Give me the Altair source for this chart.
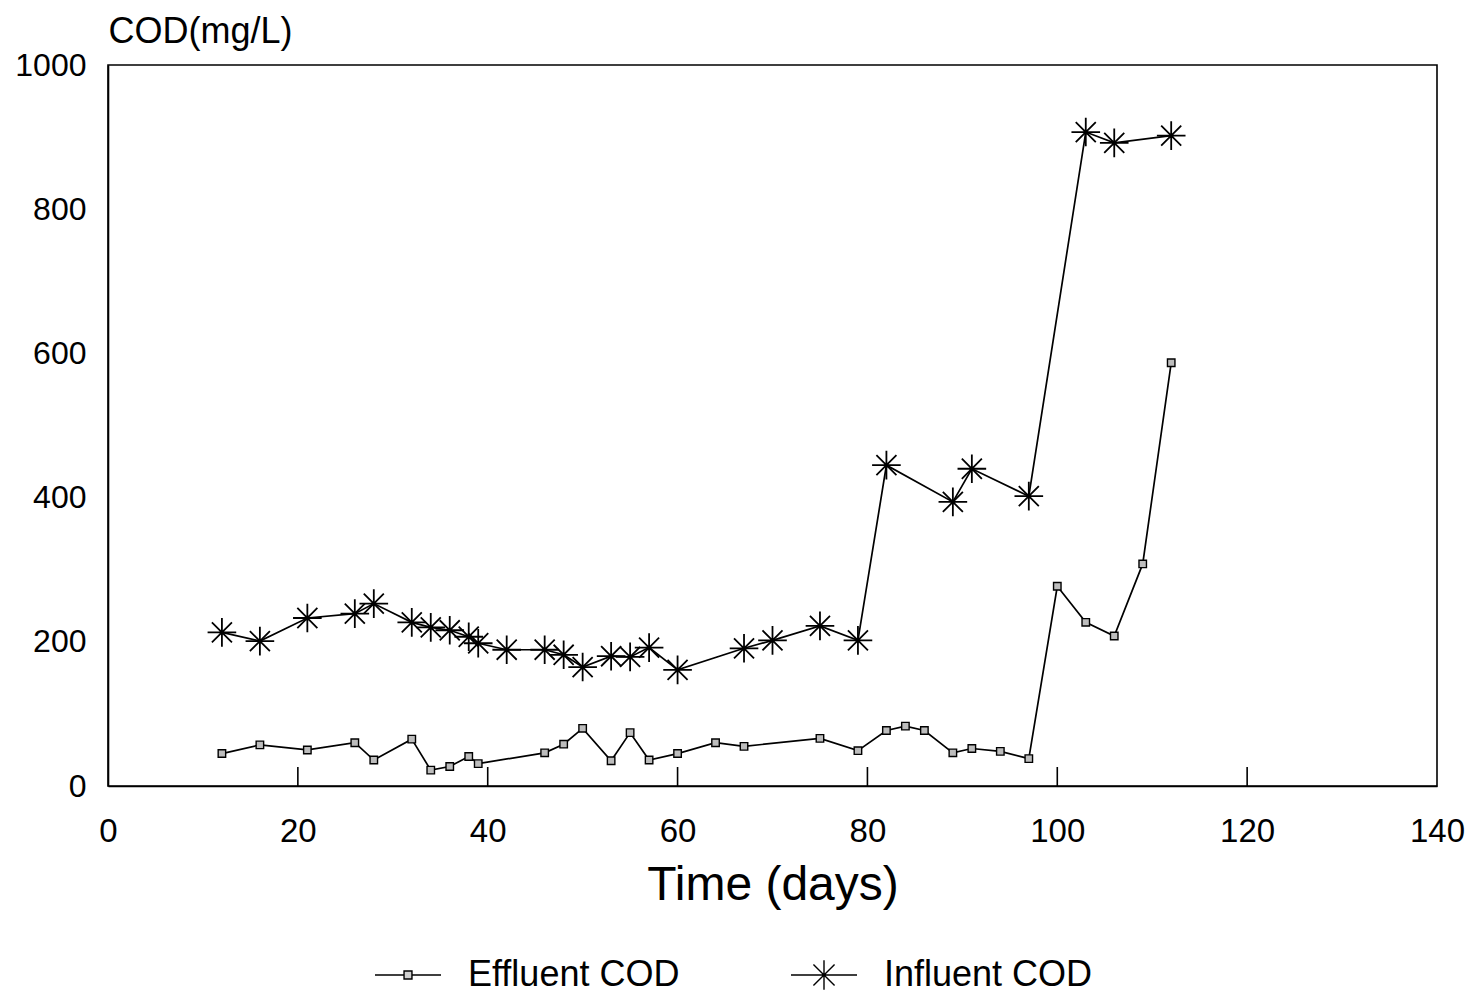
import altair as alt
import pandas as pd

# ---- data ----
series_names = ["Effluent COD", "Influent COD"]

eff_days = [12, 16, 21, 26, 28, 32, 34, 36, 38, 39, 46, 48, 50, 53, 55, 57, 60, 64, 67,
            75, 79, 82, 84, 86, 89, 91, 94, 97, 100, 103, 106, 109, 112]
eff_cod = [45, 57, 50, 60, 36, 65, 22, 27, 41, 31, 46, 58, 80, 35, 74, 36, 45, 60, 55,
           66, 49, 77, 83, 77, 46, 52, 48, 38, 277, 227, 208, 308, 587]

inf_days = [12, 16, 21, 26, 28, 32, 34, 36, 38, 39, 42, 46, 48, 50, 53, 55, 57, 60, 67,
            70, 75, 79, 82, 89, 91, 97, 103, 106, 112]
inf_cod = [213, 201, 233, 239, 253, 227, 220, 216, 207, 198, 189, 189, 182, 165, 180, 179,
           192, 161, 191, 202, 222, 202, 445, 394, 440, 402, 907, 892, 902]

x_ticks = [0, 20, 40, 60, 80, 100, 120, 140]
y_ticks = [0, 200, 400, 600, 800, 1000]
inner_ticks = [20, 40, 60, 80, 100, 120]

df = pd.concat([
    pd.DataFrame({"day": eff_days, "cod": eff_cod, "series": series_names[0]}),
    pd.DataFrame({"day": inf_days, "cod": inf_cod, "series": series_names[1]}),
], ignore_index=True)
ticks_df = pd.DataFrame({"day": inner_ticks})

W, H = 1329, 721
FONT = "Liberation Sans"

ASTER = "M-1,0L1,0M0,-1L0,1M-0.7,-0.7L0.7,0.7M-0.7,0.7L0.7,-0.7"
LEG_EFF = "M-1,0L-0.12,0M0.12,0L1,0M-0.12,-0.12L0.12,-0.12L0.12,0.12L-0.12,0.12Z"
LEG_INF = "M-1,0L1,0M0,-0.45L0,0.45M-0.32,-0.32L0.32,0.32M-0.32,0.32L0.32,-0.32"

x_enc = alt.X("day:Q", scale=alt.Scale(domain=[0, 140], nice=False),
              axis=alt.Axis(values=x_ticks, title="Time (days)", ticks=False,
                            labelPadding=29, titlePadding=13, titleFontSize=48,
                            labelFontSize=33, titleFontWeight="normal", format="d",
                            labelFlush=False))
y_enc = alt.Y("cod:Q", scale=alt.Scale(domain=[0, 1000], nice=False),
              axis=alt.Axis(values=y_ticks, title="COD(mg/L)", ticks=False,
                            labelPadding=22, labelFontSize=32, titleFontSize=36,
                            titleFontWeight="normal", titleAngle=0, titleAlign="left",
                            titleBaseline="alphabetic", titleX=0, titleY=-23, format="d",
                            labelFlush=False))

legend = alt.Legend(
    title=None, orient="none", legendX=266, legendY=876, direction="horizontal",
    symbolSize=4356, labelFontSize=36, labelOffset=26, columnPadding=108,
    labelFont=FONT, labelColor="black", padding=0, labelLimit=500,
    symbolType=alt.ExprRef(expr="datum.value === 'Effluent COD' ? '" + LEG_EFF + "' : '" + LEG_INF + "'"),
    symbolFillColor="#d0d0d0", symbolStrokeColor="black", symbolStrokeWidth=1.4,
    symbolOpacity=1,
)

lines = alt.Chart(df).mark_line(strokeWidth=1.7).encode(
    x=x_enc, y=y_enc,
    color=alt.Color("series:N", scale=alt.Scale(domain=series_names, range=["black", "black"]),
                    legend=legend),
)

eff_pts = alt.Chart(df).transform_filter(
    alt.datum.series == series_names[0]
).mark_point(shape="square", size=56, filled=True, fill="#bdbdbd", stroke="black",
             strokeWidth=1.4, opacity=1).encode(x="day:Q", y="cod:Q")

inf_pts = alt.Chart(df).transform_filter(
    alt.datum.series == series_names[1]
).mark_point(shape=ASTER, size=820, filled=False, stroke="black",
             strokeWidth=1.8, opacity=1).encode(x="day:Q", y="cod:Q")

tick_rules = alt.Chart(ticks_df).mark_rule(color="black", strokeWidth=1.6).encode(
    x="day:Q", y=alt.value(H), y2=alt.value(H - 19)
)

chart = alt.layer(lines, tick_rules, eff_pts, inf_pts).properties(
    width=W, height=H,
    autosize=alt.AutoSizeParams(type="none"),
    padding={"left": 100, "top": 57, "right": 34, "bottom": 211},
).configure(font=FONT).configure_view(
    stroke="black", strokeWidth=1.6
).configure_axis(
    domainColor="black", domainWidth=1.6, grid=False,
    labelColor="black", titleColor="black", labelFont=FONT, titleFont=FONT
)

chart.save("out.html", embed_options={"renderer": "svg", "actions": False})
